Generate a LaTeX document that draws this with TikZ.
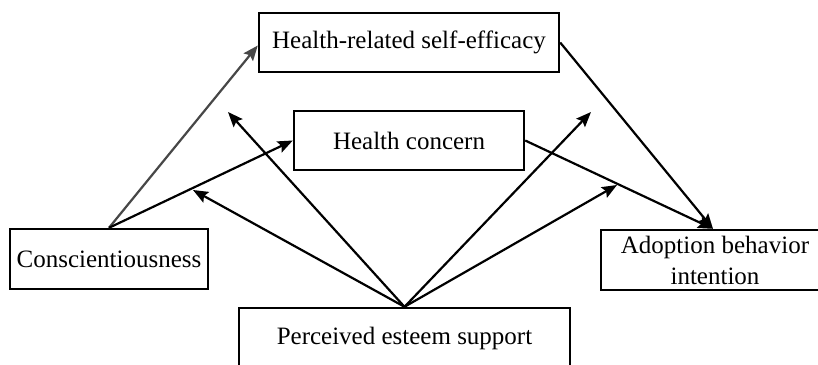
\documentclass[tikz,border=0pt]{standalone}
\usepackage{fontspec}
\setmainfont{Liberation Serif}
\usetikzlibrary{arrows.meta}
\begin{document}
\begin{tikzpicture}[x=1pt,y=-1pt,
  box/.style={draw=black, line width=2.4pt, rectangle, inner sep=0pt, align=center,
    font=\fontsize{25}{31}\selectfont},
  link/.style={line width=2.2pt, -{Stealth[length=15pt,width=12pt,inset=2.5pt]}},
  graylink/.style={link, draw=black!72, -{Stealth[length=15pt,width=12pt,inset=2.5pt,fill=black!72]}}]
\useasboundingbox (0,0) rectangle (818,364);
\clip (0,0) rectangle (818,364);
\fill[white] (0,0) rectangle (818,364);
\node[box, minimum width=300pt, minimum height=59pt] (se) at (409,42.5) {Health-related self-efficacy};
\node[box, minimum width=230pt, minimum height=59pt] (hc) at (409,140.5) {Health concern};
\node[box, minimum width=198pt, minimum height=60pt] (co) at (109,259) {Conscientiousness};
\node[box, minimum width=228pt, minimum height=60pt] (ad) at (715,260) {Adoption behavior\\intention};
\node[box, minimum width=331pt, minimum height=60pt] (pe) at (404.5,338) {Perceived esteem support};
\coordinate (m1) at (228,112);
\coordinate (m2) at (193,190);
\coordinate (m3) at (591,112);
\coordinate (m4) at (617,185);
\draw[graylink] (co.north) -- ([yshift=-3pt]se.west);
\draw[link] (co.north) -- (hc.west);
\draw[link] (se.east) -- ([xshift=-2pt]ad.north);
\draw[link] (hc.east) -- ([xshift=-2pt]ad.north);
\draw[link] (pe.north) -- (m1);
\draw[link] (pe.north) -- (m2);
\draw[link] (pe.north) -- (m3);
\draw[link] (pe.north) -- (m4);
\end{tikzpicture}
\end{document}
